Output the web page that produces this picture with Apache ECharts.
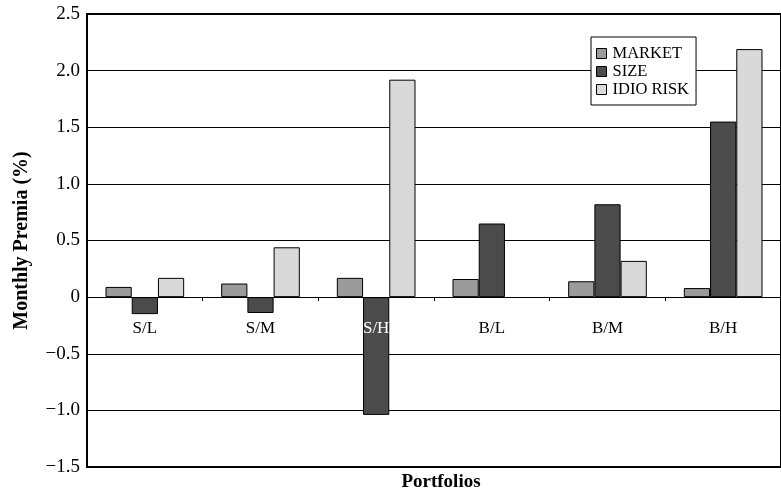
<!DOCTYPE html>
<html><head><meta charset="utf-8">
<script src="https://cdn.jsdelivr.net/npm/echarts@6/dist/echarts.min.js"></script>
<style>html,body{margin:0;padding:0;background:#fff}#c{width:781px;height:496px}</style>
</head><body><div id="c"></div>
<script>
const categories = ['S/L', 'S/M', 'S/H', 'B/L', 'B/M', 'B/H'];
const market = [0.09, 0.12, 0.17, 0.16, 0.14, 0.08];
const size = [-0.15, -0.14, -1.04, 0.65, 0.82, 1.55];
const idio = [0.17, 0.44, 1.92, null, 0.32, 2.19];
const yTicks = { min: -1.5, max: 2.5, interval: 0.5 };

const serif = '"Liberation Serif", serif';
const chart = echarts.init(document.getElementById('c'));
function bar(name, data, color) {
  return { name, type: 'bar', data, barGap: '0%', barCategoryGap: '32%', xAxisIndex: 0,
    itemStyle: { color, borderColor: '#000', borderWidth: 1 } };
}
chart.setOption({
  animation: false,
  grid: { left: 87, right: -9, top: 14, bottom: 29, show: true, borderColor: '#000', borderWidth: 2, backgroundColor: 'transparent' },
  title: { text: 'Portfolios', left: 436, textAlign: 'center', top: 468,
    textStyle: { fontFamily: serif, fontSize: 19, fontWeight: 'bold', color: '#000' } },
  legend: {
    left: 591, top: 37, orient: 'vertical', itemWidth: 10, itemHeight: 10, itemGap: 1,
    padding: [8, 7, 7, 5], borderColor: '#000', borderWidth: 1, backgroundColor: '#fff',
    icon: 'rect',
    itemStyle: { borderColor: '#000', borderWidth: 1 },
    textStyle: { fontFamily: serif, fontSize: 16.5, color: '#000', padding: [0, 0, 0, 1] },
    data: ['MARKET', 'SIZE', 'IDIO RISK']
  },
  xAxis: [{
    type: 'category', data: categories,
    axisLine: { onZero: true, lineStyle: { color: '#000', width: 1 } },
    axisTick: { show: true, length: 4, lineStyle: { color: '#000' } },
    axisLabel: { show: false },
    splitLine: { show: false }
  }, {
    type: 'category', data: categories, position: 'bottom', offset: -170, z: 10,
    axisLine: { show: false, onZero: false }, axisTick: { show: false },
    axisLabel: { margin: 23, fontFamily: serif, fontSize: 17,
      color: (v) => v === 'S/H' ? '#fff' : '#000' },
    splitLine: { show: false }
  }],
  yAxis: {
    type: 'value', min: yTicks.min, max: yTicks.max, interval: yTicks.interval,
    name: 'Monthly Premia (%)', nameLocation: 'middle', nameGap: 55, nameRotate: 90,
    nameTextStyle: { fontFamily: serif, fontSize: 20, fontWeight: 'bold', color: '#000' },
    axisLine: { show: true, lineStyle: { color: '#000', width: 1.5 } },
    axisTick: { show: false },
    axisLabel: { margin: 7, fontFamily: serif, fontSize: 19, color: '#000',
      formatter: v => v === 0 ? '0' : (v < 0 ? '\u2212' + Math.abs(v).toFixed(1) : v.toFixed(1)) },
    splitLine: { show: true, lineStyle: { color: '#000', width: 1 } }
  },
  series: [
    bar('MARKET', market, '#9b9b9b'),
    bar('SIZE', size, '#4b4b4b'),
    bar('IDIO RISK', idio, '#d9d9d9')
  ]
});
</script></body></html>
